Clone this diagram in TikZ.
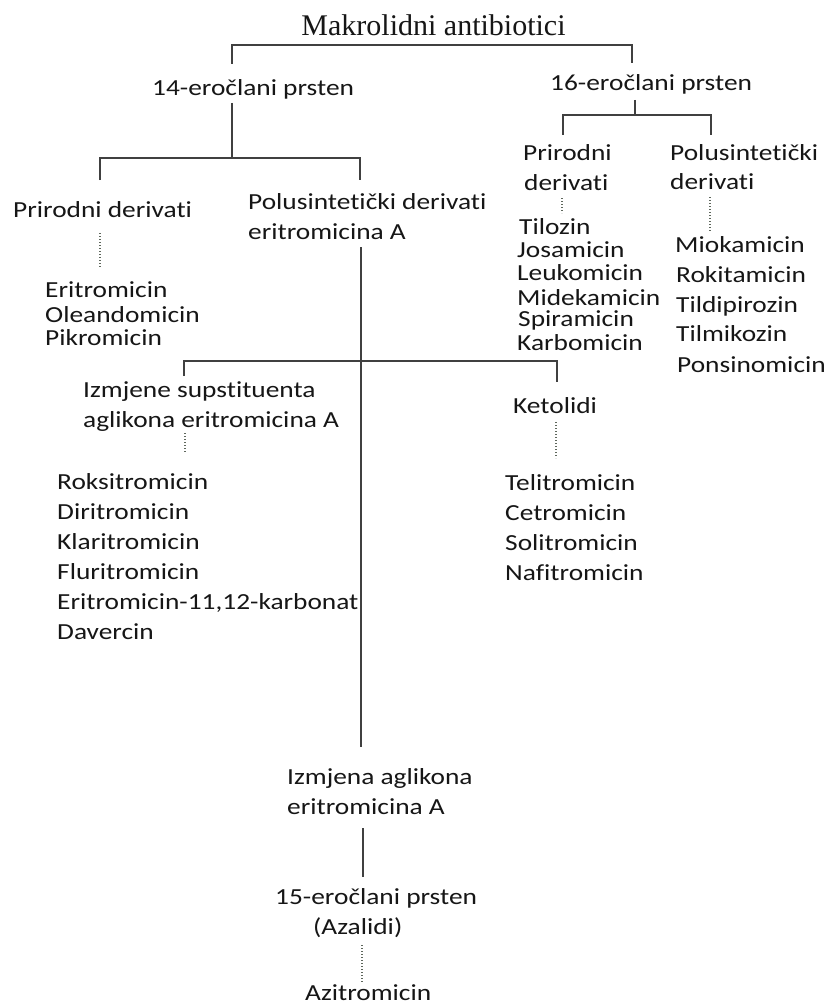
\documentclass[tikz,border=0pt]{standalone}
\usepackage{fontspec}
\setmainfont{Liberation Serif}
\newfontfamily\calib[FakeStretch=1.19,Ligatures={NoCommon}]{Carlito}
\newcommand{\nti}{t\kern0pt i}
\definecolor{linegray}{HTML}{404040}
\definecolor{dotgray}{HTML}{5E675C}
\definecolor{textc}{HTML}{161616}
\begin{document}
\begin{tikzpicture}[x=1pt,y=-1pt,
  conn/.style={draw=linegray, line width=2.2pt, line join=miter},
  dots/.style={draw=dotgray, line width=1.6pt, dash pattern=on 1.4pt off 1.6pt},
  txt/.style={font=\calib\fontsize{23}{28}\selectfont, text=textc, anchor=west, inner sep=0pt, text height=15pt, text depth=0pt},
  ttl/.style={font=\fontsize{30}{34}\selectfont, text=textc, anchor=base, inner sep=0pt}
]
\useasboundingbox (0,0) rectangle (830,1006);
\fill[white] (0,0) rectangle (830,1006);

% title and main branches
\node[ttl] (title) at (433.5,36) {Makrolidni antibiotici};
\node[txt] (r14) at (152,88) {14-eročlani prsten};
\node[txt] (r16) at (550,83) {16-eročlani prsten};

% 14-membered
\node[txt] (pd14) at (13,210) {Prirodni deriva\nti};
\node[txt] (ps14a) at (248,202) {Polusinte\nti čki deriva\nti};
\node[txt] (ps14b) at (248,232) {eritromicina A};
\node[txt] (n1) at (45,290) {Eritromicin};
\node[txt] (n2) at (45,315) {Oleandomicin};
\node[txt] (n3) at (45,338) {Pikromicin};

% 16-membered
\node[txt] (pd16a) at (523,153) {Prirodni};
\node[txt] (pd16b) at (524,183) {deriva\nti};
\node[txt] (ps16a) at (670,153) {Polusinte\nti čki};
\node[txt] (ps16b) at (670,182) {deriva\nti};
\node[txt] (t1) at (519,227) {Tilozin};
\node[txt] (t2) at (517,250) {Josamicin};
\node[txt] (t3) at (517,273) {Leukomicin};
\node[txt] (t4) at (517,298) {Midekamicin};
\node[txt] (t5) at (518,319) {Spiramicin};
\node[txt] (t6) at (517,343) {Karbomicin};
\node[txt] (m1) at (675,245) {Miokamicin};
\node[txt] (m2) at (676,275) {Rokitamicin};
\node[txt] (m3) at (676,305) {Tildipirozin};
\node[txt] (m4) at (676,334) {Tilmikozin};
\node[txt] (m5) at (677,365) {Ponsinomicin};

% substituent changes
\node[txt] (iz1) at (83,390) {Izmjene supsti\kern0pt tuenta};
\node[txt] (iz2) at (83,420) {aglikona eritromicina A};
\foreach \t [count=\i] in {Roksitromicin, Diritromicin, Klaritromicin, Fluritromicin, {Eritromicin-11,12-karbonat}, Davercin}
  \node[txt] (s\i) at (57,{482+30*(\i-1)}) {\t};

% ketolides
\node[txt] (ket) at (513,406) {Ketolidi};
\foreach \t [count=\i] in {Telitromicin, Cetromicin, Solitromicin, Nafitromicin}
  \node[txt] (k\i) at (505,{483+30*(\i-1)}) {\t};

% aglycone change
\node[txt] (ag1) at (287,777) {Izmjena aglikona};
\node[txt] (ag2) at (287,807) {eritromicina A};
\node[txt] (az1) at (275,897) {15-eročlani prsten};
\node[txt] (az2) at (313,927) {(Azalidi)};
\node[txt] (azi) at (305,993) {Azitromicin};

% connector end points
\coordinate (jTop) at (432,45);
\coordinate (e14) at (232,64);
\coordinate (e16) at (632,63);
\coordinate (s14) at (232,103);
\coordinate (j14) at (232,158);
\coordinate (ePd14) at (100,180);
\coordinate (ePs14) at (360,180);
\coordinate (s16) at (635,100);
\coordinate (j16) at (635,115);
\coordinate (ePd16) at (563,135);
\coordinate (ePs16) at (711,135);
\coordinate (vTop) at (361,247);
\coordinate (jMid) at (361,361);
\coordinate (vBot) at (361,747);
\coordinate (eIz) at (184,376);
\coordinate (eKet) at (557,382);
\coordinate (agA) at (363,828);
\coordinate (agB) at (363,877);

% solid connectors
\draw[conn] (e14) |- (jTop) -| (e16);
\draw[conn] (s14) -- (j14);
\draw[conn] (ePd14) |- (j14) -| (ePs14);
\draw[conn] (s16) -- (j16);
\draw[conn] (ePd16) |- (j16) -| (ePs16);
\draw[conn] (vTop) -- (vBot);
\draw[conn] (eIz) |- (jMid) -| (eKet);
\draw[conn] (agA) -- (agB);

% dotted connectors
\coordinate (d1a) at (100,233); \coordinate (d1b) at (100,268);
\coordinate (d2a) at (562,198); \coordinate (d2b) at (562,213);
\coordinate (d3a) at (710,197); \coordinate (d3b) at (710,232);
\coordinate (d4a) at (185,433); \coordinate (d4b) at (185,453);
\coordinate (d5a) at (556,422); \coordinate (d5b) at (556,458);
\coordinate (d6a) at (362,945); \coordinate (d6b) at (362,982);
\draw[dots] (d1a) -- (d1b);
\draw[dots] (d2a) -- (d2b);
\draw[dots] (d3a) -- (d3b);
\draw[dots] (d4a) -- (d4b);
\draw[dots] (d5a) -- (d5b);
\draw[dots] (d6a) -- (d6b);
\end{tikzpicture}
\end{document}
